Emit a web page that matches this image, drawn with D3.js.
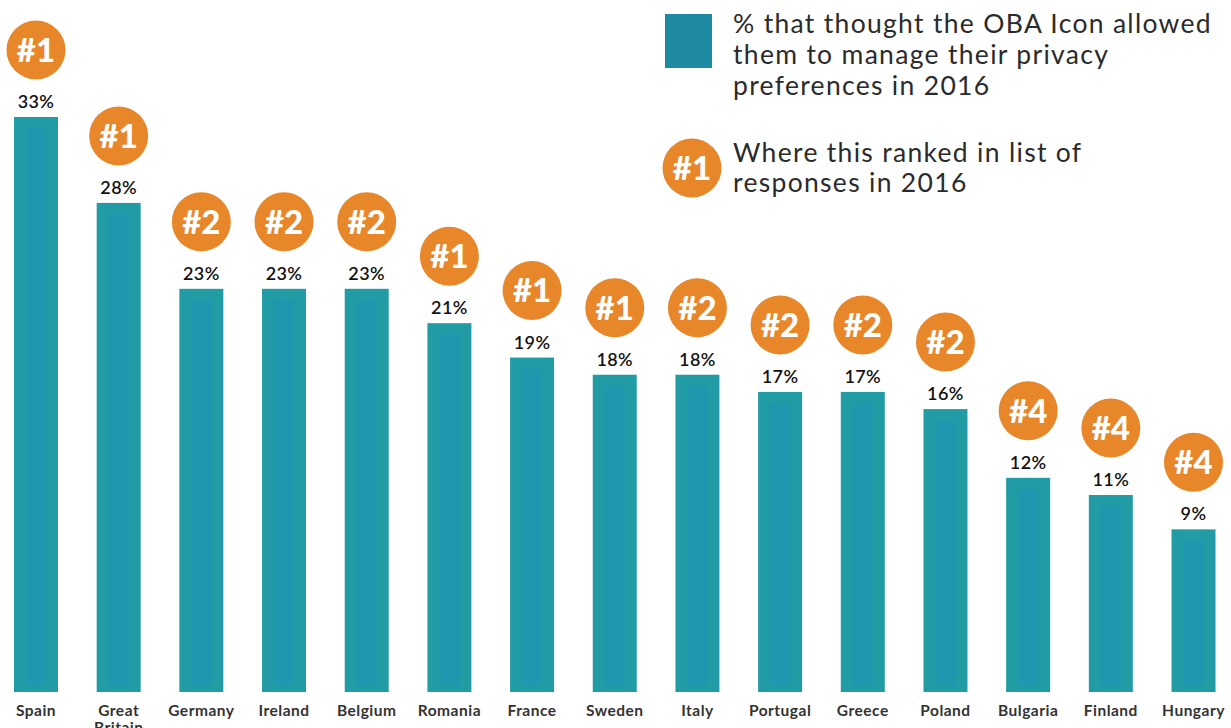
<!DOCTYPE html>
<html>
<head>
<meta charset="utf-8">
<script src="https://cdn.jsdelivr.net/npm/d3@7"></script>
<style>
  body { margin: 0; background: #fff; }
  svg { display: block; font-family: Lato, "Open Sans", sans-serif; }
</style>
</head>
<body>
<svg id="chart" width="1231" height="728"></svg>
<script>
// chart data
const countries = ['Spain', 'Great Britain', 'Germany', 'Ireland', 'Belgium', 'Romania', 'France',
  'Sweden', 'Italy', 'Portugal', 'Greece', 'Poland', 'Bulgaria', 'Finland', 'Hungary'];
const percents = [33, 28, 23, 23, 23, 21, 19, 18, 18, 17, 17, 16, 12, 11, 9];
const ranks = [1, 1, 2, 2, 2, 1, 1, 1, 2, 2, 2, 2, 4, 4, 4];

const legendLines = ['% that thought the OBA Icon allowed', 'them to manage their privacy', 'preferences in 2016'];
const rankLegendLines = ['Where this ranked in list of', 'responses in 2016'];

const teal = '#219ca4';
const tealInner = '#1f97ae';
const orange = '#e8872a';

const svg = d3.select('#chart');

const x = d3.scaleBand()
  .domain(countries)
  .range([14, 1215.5])
  .paddingInner(0.468)
  .paddingOuter(0);

const y = d3.scaleLinear()
  .domain([0, 33])
  .range([684, 117]);

// bars run a little below the zero line, as in the original artwork
const base = y(0) + 8;

const rows = countries.map(function(c, i) {
  return { name: c, value: percents[i], rank: ranks[i] };
});

const g = svg.append('g');

// outer bar
g.selectAll('.bar')
  .data(rows)
  .enter()
  .append('rect')
  .attr('class', 'bar')
  .attr('x', function(d) { return x(d.name); })
  .attr('y', function(d) { return y(d.value); })
  .attr('width', x.bandwidth())
  .attr('height', function(d) { return base - y(d.value); })
  .attr('fill', teal);

// lighter inner strip
g.selectAll('.bar-inner')
  .data(rows)
  .enter()
  .append('rect')
  .attr('class', 'bar-inner')
  .attr('x', function(d) { return x(d.name) + 12; })
  .attr('y', function(d) { return y(d.value) + 11; })
  .attr('width', x.bandwidth() - 24)
  .attr('height', function(d) { return base - y(d.value) - 17; })
  .attr('fill', tealInner);

// value labels
g.selectAll('.value')
  .data(rows)
  .enter()
  .append('text')
  .attr('class', 'value')
  .attr('x', function(d) { return x(d.name) + x.bandwidth() / 2; })
  .attr('y', function(d) { return y(d.value) - 9; })
  .attr('text-anchor', 'middle')
  .attr('font-size', 18)
  .attr('font-weight', 600)
  .attr('letter-spacing', 0.4)
  .attr('fill', '#111')
  .text(function(d) { return d.value + '%'; });

// rank badges
const badge = g.selectAll('.badge')
  .data(rows)
  .enter()
  .append('g')
  .attr('class', 'badge')
  .attr('transform', function(d) {
    return 'translate(' + (x(d.name) + x.bandwidth() / 2) + ',' + (y(d.value) - 67) + ')';
  });

badge.append('circle')
  .attr('r', 29.5)
  .attr('fill', orange);

badge.append('text')
  .attr('text-anchor', 'middle')
  .attr('dy', '0.36em')
  .attr('font-size', 33)
  .attr('font-weight', 900)
  .attr('fill', '#fff')
  .text(function(d) { return '#' + d.rank; });

// category labels (wrap on spaces)
g.selectAll('.cat')
  .data(rows)
  .enter()
  .append('text')
  .attr('class', 'cat')
  .attr('text-anchor', 'middle')
  .attr('font-size', 15.5)
  .attr('font-weight', 700)
  .attr('letter-spacing', 0.5)
  .attr('fill', '#333')
  .each(function(d) {
    const words = d.name.split(' ');
    d3.select(this)
      .selectAll('tspan')
      .data(words)
      .enter()
      .append('tspan')
      .attr('x', x(d.name) + x.bandwidth() / 2)
      .attr('y', function(w, i) { return 716 + i * 17; })
      .text(String);
  });

// legend
const legend = svg.append('g');

legend.append('rect')
  .attr('x', 665)
  .attr('y', 14)
  .attr('width', 47)
  .attr('height', 54)
  .attr('fill', '#1e8ba2');

const leg1 = legend.selectAll('.leg1')
  .data(legendLines)
  .enter()
  .append('text')
  .attr('class', 'leg')
  .attr('x', 733)
  .attr('y', function(d, i) { return 33 + i * 31; })
  .attr('font-size', 26.5)
  .attr('fill', '#2b2b2b')
  .text(String);

legend.append('circle')
  .attr('cx', 692)
  .attr('cy', 168)
  .attr('r', 29.5)
  .attr('fill', orange);

legend.append('text')
  .attr('x', 692)
  .attr('y', 168)
  .attr('dy', '0.36em')
  .attr('text-anchor', 'middle')
  .attr('font-size', 33)
  .attr('font-weight', 900)
  .attr('fill', '#fff')
  .text('#1');

legend.selectAll('.leg2')
  .data(rankLegendLines)
  .enter()
  .append('text')
  .attr('class', 'leg')
  .attr('x', 733)
  .attr('y', function(d, i) { return 162 + i * 30; })
  .attr('font-size', 26.5)
  .attr('fill', '#2b2b2b')
  .text(String);

// widen legend text to match the wider original typeface
const first = leg1.node();
const chars = legendLines[0].length;
const spacing = Math.max(0, (479 - first.getComputedTextLength()) / chars);
legend.selectAll('.leg').attr('letter-spacing', spacing);
</script>
</body>
</html>
